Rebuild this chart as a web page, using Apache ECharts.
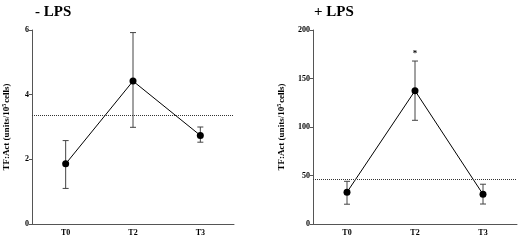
<!DOCTYPE html>
<html>
<head>
<meta charset="utf-8">
<script src="https://cdn.jsdelivr.net/npm/echarts@6/dist/echarts.min.js"></script>
<style>html,body{margin:0;padding:0;background:#fff}#c{width:520px;height:244px}</style>
</head>
<body>
<div id="c"></div>
<script>
var categories = ['T0', 'T2', 'T3'];
var minusMean = [1.86, 4.42, 2.74];
var minusLow = [1.10, 2.99, 2.53];
var minusHigh = [2.58, 5.92, 3.00];
var minusRef = 3.35;
var plusMean = [32.8, 137.4, 30.6];
var plusLow = [20.4, 106.9, 20.6];
var plusHigh = [44, 168, 41];
var plusRef = 46.2;
var plusStars = ['', '*', ''];
var minusTicks = {min: 0, max: 6, interval: 2};
var plusTicks = {min: 0, max: 200, interval: 50};

var FONT = '"Liberation Serif", "Times New Roman", serif';

function errData(low, high, stars) {
  return categories.map(function (c, i) { return [i, low[i], high[i], stars ? stars[i] : '']; });
}
function errRender(params, api) {
  var x = api.value(0);
  var lo = api.coord([x, api.value(1)]);
  var hi = api.coord([x, api.value(2)]);
  var w = 3;
  var st = {stroke: '#444', lineWidth: 1};
  var children = [
    {type: 'line', shape: {x1: lo[0], y1: lo[1], x2: hi[0], y2: hi[1]}, style: st},
    {type: 'line', shape: {x1: lo[0] - w, y1: lo[1], x2: lo[0] + w, y2: lo[1]}, style: st},
    {type: 'line', shape: {x1: hi[0] - w, y1: hi[1], x2: hi[0] + w, y2: hi[1]}, style: st}
  ];
  var star = api.value(3);
  if (star) {
    children.push({type: 'text', style: {text: star, x: hi[0], y: hi[1] - 3, textAlign: 'center', textVerticalAlign: 'bottom', font: 'bold 9px ' + FONT, fill: '#000'}});
  }
  return {type: 'group', children: children};
}

var nameRich = {
  a: {fontFamily: FONT, fontWeight: 'bold', fontSize: 9, color: '#000'},
  s: {fontFamily: FONT, fontWeight: 'bold', fontSize: 6, color: '#000', verticalAlign: 'top', padding: [0, 1, 5, 0]}
};
var yName = '{a|TF:Act (units/10}{s|5}{a|cells)}';

function xAx(idx) {
  return {
    type: 'category', gridIndex: idx, data: categories, boundaryGap: true,
    axisLine: {lineStyle: {color: '#555', width: 1}},
    axisTick: {alignWithLabel: true, length: 3, lineStyle: {color: '#555'}},
    axisLabel: {fontFamily: FONT, fontWeight: 'bold', fontSize: 8, color: '#000', margin: 5}
  };
}
function yAx(idx, t, gap) {
  return {
    type: 'value', gridIndex: idx, min: t.min, max: t.max, interval: t.interval,
    name: yName, nameLocation: 'middle', nameGap: gap, nameRotate: 90,
    nameTextStyle: {rich: nameRich},
    axisLine: {show: true, lineStyle: {color: '#555', width: 1}},
    axisTick: {show: true, length: 3, lineStyle: {color: '#555'}},
    splitLine: {show: false},
    axisLabel: {fontFamily: FONT, fontWeight: 'bold', fontSize: 8, color: '#000', margin: 3}
  };
}
function refLine(v) {
  return {silent: true, symbol: 'none', label: {show: false},
    lineStyle: {type: 'dotted', color: '#333', width: 1},
    data: [{yAxis: v}]};
}

var chart = echarts.init(document.getElementById('c'));
chart.setOption({
  animation: false,
  backgroundColor: '#fff',
  title: [
    {text: '- LPS', left: 30, top: 0, textStyle: {fontFamily: FONT, fontWeight: 'bold', fontSize: 15, color: '#000'}},
    {text: '+ LPS', left: 309, top: 0, textStyle: {fontFamily: FONT, fontWeight: 'bold', fontSize: 15, color: '#000'}}
  ],
  grid: [
    {left: 30, top: 30, width: 204, height: 194},
    {left: 313, top: 30, width: 204, height: 194}
  ],
  xAxis: [xAx(0), xAx(1)],
  yAxis: [yAx(0, minusTicks, 20), yAx(1, plusTicks, 26)],
  series: [
    {type: 'custom', xAxisIndex: 0, yAxisIndex: 0, renderItem: errRender, data: errData(minusLow, minusHigh), z: 1},
    {type: 'line', xAxisIndex: 0, yAxisIndex: 0, data: minusMean, symbol: 'circle', symbolSize: 7,
      itemStyle: {color: '#000'}, lineStyle: {color: '#000', width: 1}, markLine: refLine(minusRef), z: 3},
    {type: 'custom', xAxisIndex: 1, yAxisIndex: 1, renderItem: errRender, data: errData(plusLow, plusHigh, plusStars), z: 1},
    {type: 'line', xAxisIndex: 1, yAxisIndex: 1, data: plusMean, symbol: 'circle', symbolSize: 7,
      itemStyle: {color: '#000'}, lineStyle: {color: '#000', width: 1}, markLine: refLine(plusRef), z: 3}
  ]
});
</script>
</body>
</html>
